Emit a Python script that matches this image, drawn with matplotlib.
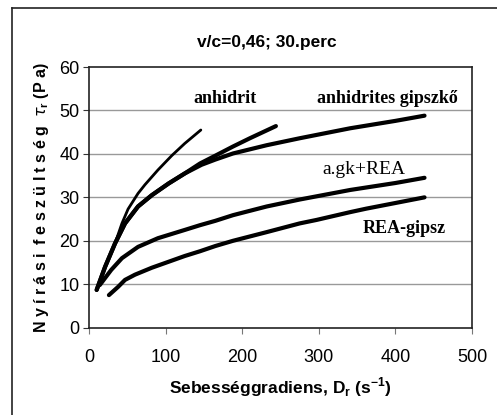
import matplotlib
matplotlib.use("Agg")
import matplotlib.pyplot as plt
from matplotlib.lines import Line2D

# Data
anhidrit_x = [10, 21, 34, 43, 51, 64, 73, 90, 108, 125, 146]
anhidrit_y = [8.7, 14.0, 19.4, 24.0, 27.3, 30.9, 32.9, 36.3, 39.6, 42.4, 45.5]

branch_x = [10, 21, 34, 47, 64, 82, 104, 125, 145, 165, 188, 210, 244]
branch_y = [8.7, 14.0, 19.4, 24.0, 27.9, 30.5, 33.2, 35.5, 37.8, 39.6, 41.7, 43.6, 46.4]

gipszko_x = [10, 21, 34, 47, 64, 82, 104, 125, 147, 165, 188, 232, 275, 341, 400, 438]
gipszko_y = [8.7, 14.0, 19.4, 24.0, 27.9, 30.5, 33.2, 35.5, 37.5, 38.7, 40.1, 42.0, 43.6, 45.9, 47.6, 48.8]

agk_x = [14, 29, 43, 64, 90, 125, 145, 165, 188, 210, 232, 275, 341, 400, 438]
agk_y = [9.8, 13.3, 16.0, 18.6, 20.6, 22.5, 23.6, 24.6, 25.9, 26.9, 27.9, 29.5, 31.7, 33.3, 34.5]

rea_x = [26, 38, 47, 60, 82, 125, 145, 165, 188, 210, 232, 275, 297, 341, 362, 400, 438]
rea_y = [7.5, 9.4, 11.0, 12.2, 13.8, 16.5, 17.6, 18.8, 20.0, 21.0, 22.0, 24.0, 24.8, 26.6, 27.4, 28.7, 30.0]

xticks = [0, 100, 200, 300, 400, 500]
yticks = [0, 10, 20, 30, 40, 50, 60]

sans = "Liberation Sans"

fig = plt.figure(figsize=(4.97, 4.15), dpi=100)
ax = fig.add_axes([89/497, 1-327.7/415, (472-89)/497, (327.7-67)/415])

lw_thick = 3.0
kw = dict(color="black", solid_capstyle="round", solid_joinstyle="round", zorder=3)
ax.plot(gipszko_x, gipszko_y, lw=lw_thick, **kw)
ax.plot(branch_x, branch_y, lw=lw_thick, **kw)
ax.plot(anhidrit_x, anhidrit_y, lw=2.0, **kw)
ax.plot(agk_x, agk_y, lw=lw_thick, **kw)
ax.plot(rea_x, rea_y, lw=lw_thick, **kw)

ax.set_xlim(0, 500)
ax.set_ylim(0, 60)
ax.set_xticks(xticks)
ax.set_yticks(yticks)
ax.set_xticklabels([str(v) for v in xticks], fontsize=13, family=sans)
ax.set_yticklabels([str(v) for v in yticks], fontsize=13, family=sans)
ax.tick_params(axis="x", direction="out", length=4, width=0.8, color="#777777", pad=11)
ax.tick_params(axis="y", direction="out", length=4, width=0.8, color="#333333", pad=3)
for s in ax.spines.values():
    s.set_linewidth(1.2)
    s.set_color("#222222")

for g in [10, 20, 30, 40, 50]:
    ax.axhline(g, color="#999999", lw=1.0, zorder=1)

ax.text(177, 52.8, "anhidrit", family="Liberation Serif", fontweight="bold", fontsize=13, ha="center", va="center")
ax.text(390, 52.8, "anhidrites gipszkő", family="Liberation Serif", fontweight="bold", fontsize=13, ha="center", va="center")
ax.text(359, 36.4, "a.gk+REA", family="Liberation Serif", fontsize=14, ha="center", va="center")
ax.text(412, 22.9, "REA-gipsz", family="Liberation Serif", fontweight="bold", fontsize=13, ha="center", va="center")

ax.set_xlabel("Sebességgradiens, D$_\\mathregular{r}$ (s$^\\mathregular{-1}$)", fontsize=12.5, fontweight="bold",
              family=sans, labelpad=7)
ylab = "N y í r á s i  f e s z ü l t s é g  $\\tau_\\mathregular{r}$ (P a)"
ax.set_ylabel(ylab, fontsize=11.5, fontweight="bold", family=sans, labelpad=6)

fig.text(267/497, 1-42/415, "v/c=0,46; 30.perc", ha="center", va="center", fontsize=12.5, fontweight="bold",
         family=sans)

# outer chart border (top and left only visible)
fig.add_artist(Line2D([12/497, 1.0], [1-8/415, 1-8/415], transform=fig.transFigure, color="#222222", lw=1.2))
fig.add_artist(Line2D([12/497, 12/497], [0.0, 1-8/415], transform=fig.transFigure, color="#222222", lw=1.2))

fig.savefig("out.png", dpi=100)
